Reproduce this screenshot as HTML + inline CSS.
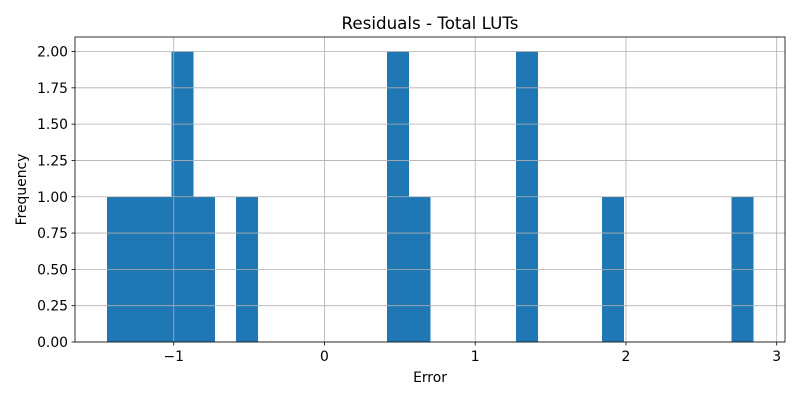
<!DOCTYPE html>
<html><head><meta charset="utf-8"><style>
html,body{margin:0;padding:0;background:#fff;}
svg{display:block;font-family:"DejaVu Sans","Liberation Sans",sans-serif;}
</style></head><body>
<svg id="chart" width="800" height="400"></svg>
<script>
const binStart = -1.443;
const binEnd = 2.842;
const counts = [1,1,1,2,1,0,1,0,0,0,0,0,0,2,1,0,0,0,0,2,0,0,0,1,0,0,0,0,0,1];
const xTicks = [-1,0,1,2,3];
const xTickLabels = ["−1","0","1","2","3"];
const yTicks = [0,0.25,0.5,0.75,1,1.25,1.5,1.75,2];
const yTickLabels = ["0.00","0.25","0.50","0.75","1.00","1.25","1.50","1.75","2.00"];

const L=75,R=785,T=37,B=342;
const xMin=-1.655,xMax=3.055,yMin=0,yMax=2.1;
const xs=v=>L+(v-xMin)/(xMax-xMin)*(R-L);
const ys=v=>B-(v-yMin)/(yMax-yMin)*(B-T);
const NS="http://www.w3.org/2000/svg";
const svg=document.getElementById('chart');
function mk(tag,attrs,parent){const e=document.createElementNS(NS,tag);for(const k in attrs)e.setAttribute(k,attrs[k]);(parent||svg).appendChild(e);return e;}

const bars=mk('g',{'shape-rendering':'crispEdges'});


const w=(binEnd-binStart)/counts.length;
counts.forEach((c,i)=>{
  if(c<=0)return;
  const x0=xs(binStart+i*w),x1=xs(binStart+(i+1)*w);
  const r=mk('rect',{x:x0,y:ys(c),width:x1-x0+0.5,height:ys(0)-ys(c),fill:'#1f77b4'},bars);
  
  
});

const grid=mk('g',{stroke:'#b0b0b0','stroke-width':0.8});


xTicks.forEach(v=>mk('line',{x1:xs(v),x2:xs(v),y1:T,y2:B},grid));
yTicks.forEach(v=>mk('line',{x1:L,x2:R,y1:ys(v),y2:ys(v)},grid));

const frame=mk('rect',{x:L,y:T,width:R-L,height:B-T,fill:'none',stroke:'#000','stroke-width':0.8});



const xa=mk('g',{});


xTicks.forEach((v,i)=>{
  mk('line',{x1:xs(v),x2:xs(v),y1:B,y2:B+3.5,stroke:'#000','stroke-width':0.8},xa);
  const t=mk('text',{x:xs(v),y:B+19,'text-anchor':'middle','font-size':13.9},xa);
  t.textContent=xTickLabels[i];
  
  
});
const ya=mk('g',{});


yTicks.forEach((v,i)=>{
  mk('line',{x1:L-3.5,x2:L,y1:ys(v),y2:ys(v),stroke:'#000','stroke-width':0.8},ya);
  const t=mk('text',{x:L-7,y:ys(v)+5,'text-anchor':'end','font-size':13.9},ya);
  t.textContent=yTickLabels[i];
  
  
});

const title=mk('text',{x:(L+R)/2,y:29,'text-anchor':'middle','font-size':16.7});
title.textContent='Residuals - Total LUTs';


const xl=mk('text',{x:(L+R)/2,y:382,'text-anchor':'middle','font-size':13.9});
xl.textContent='Error';


const yl=mk('text',{x:0,y:0,'text-anchor':'middle','font-size':13.9,transform:'translate(26,'+((T+B)/2)+') rotate(-90)'});
yl.textContent='Frequency';


</script>
</body></html>
